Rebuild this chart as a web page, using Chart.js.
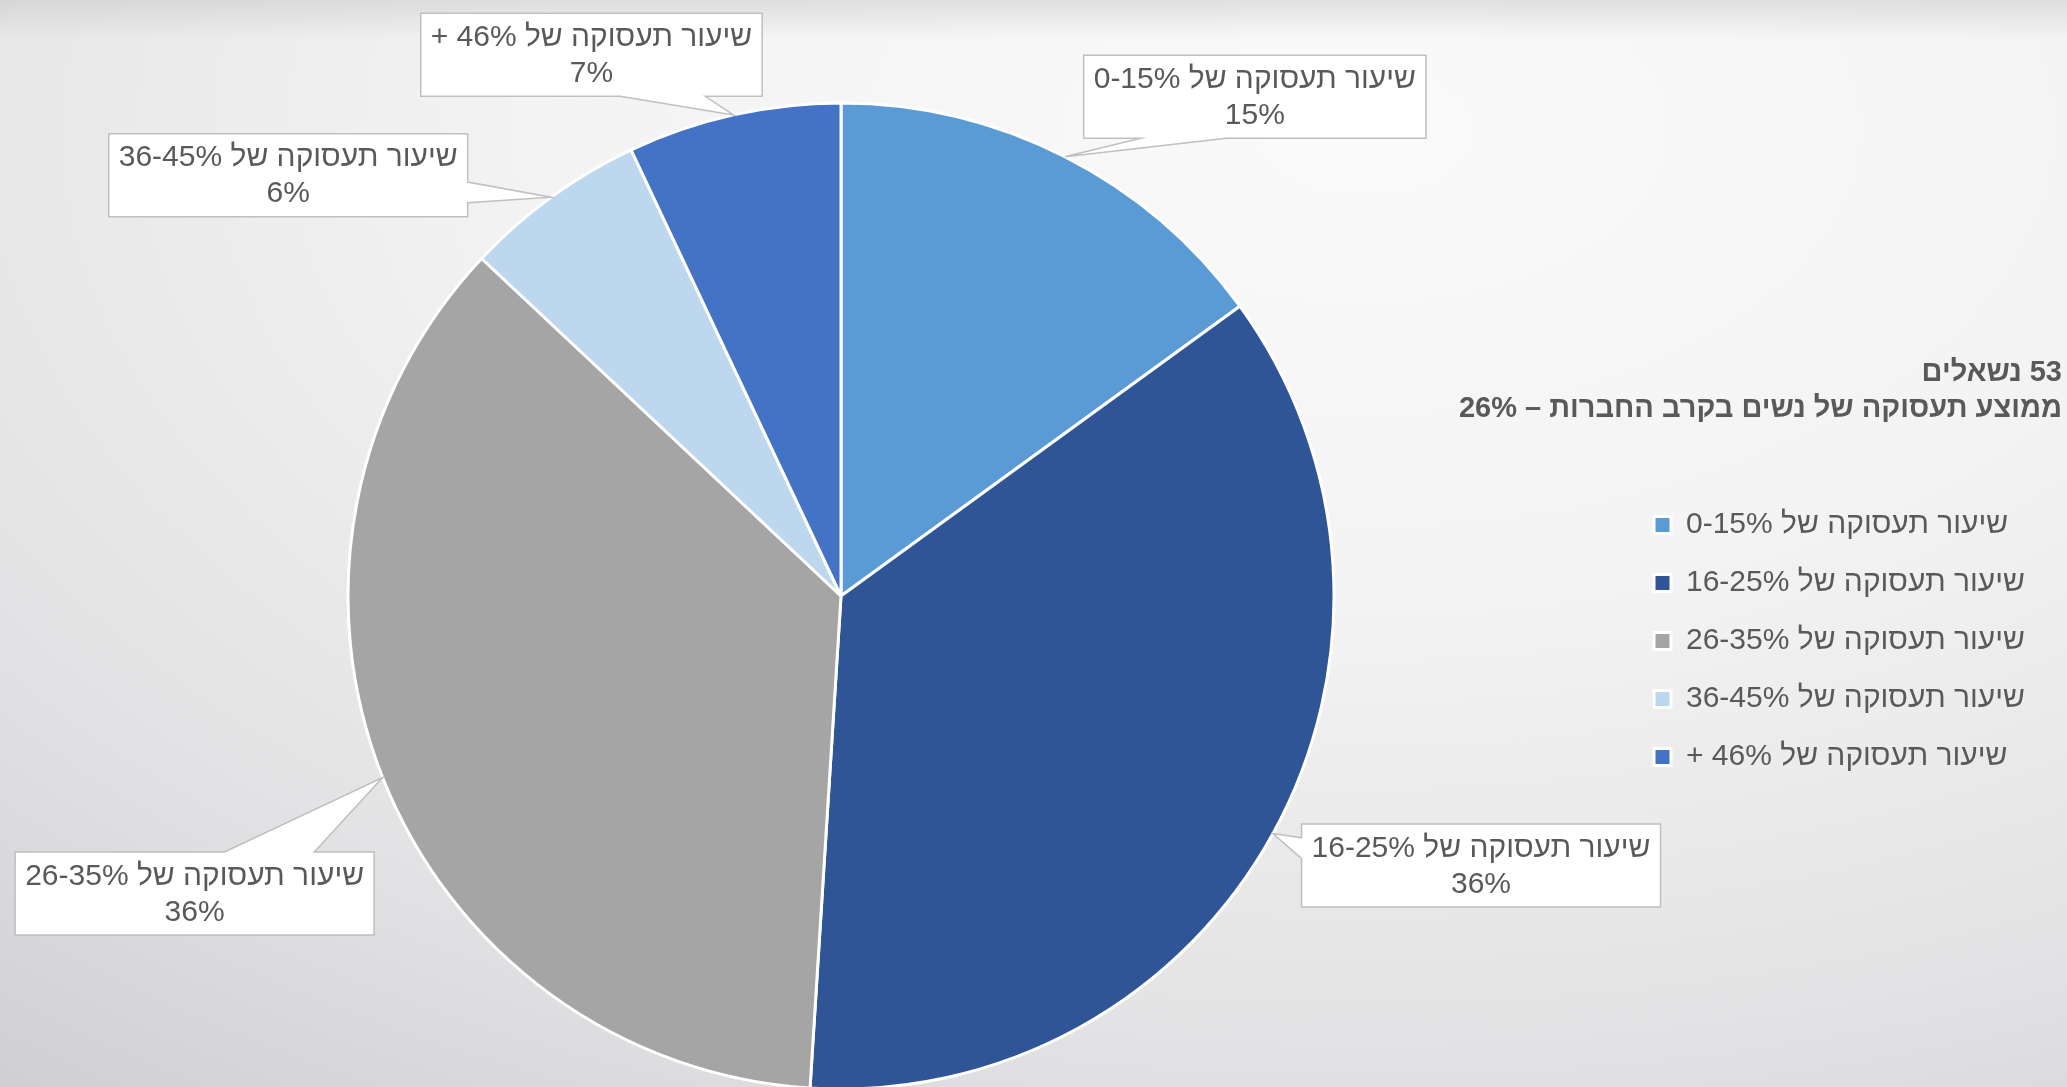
<!DOCTYPE html>
<html lang="he">
<head>
<meta charset="utf-8">
<title>שיעור תעסוקה של נשים</title>
<script src="https://cdn.jsdelivr.net/npm/chart.js@4.4.1/dist/chart.umd.min.js"></script>
<style>
  html, body { margin: 0; padding: 0; }
  body {
    width: 2067px;
    height: 1087px;
    overflow: hidden;
    background:
      linear-gradient(to bottom, rgba(195, 195, 195, 0.45) 0px, rgba(195, 195, 195, 0) 40px),
      radial-gradient(ellipse 115% 125% at 66% 12%, #fafafa 0%, #f3f3f3 35%, #e2e2e4 68%, #c7c8cc 100%);
  }
  canvas { display: block; }
</style>
</head>
<body>
<canvas id="chart" width="2067" height="1087"></canvas>
<script>
const categories = [
  'שיעור תעסוקה של 0-15%',
  'שיעור תעסוקה של 16-25%',
  'שיעור תעסוקה של 26-35%',
  'שיעור תעסוקה של 36-45%',
  'שיעור תעסוקה של 46% +',
]
const shares = [15, 36, 36, 6, 7]
const sliceColors = ['#5b9bd5', '#2f5597', '#a5a5a5', '#bdd7ee', '#4472c4']
const headerLines = ['53 נשאלים', 'ממוצע תעסוקה של נשים בקרב החברות – 26%']

const FONT_FAMILY = "Arial, 'Liberation Sans', 'DejaVu Sans', sans-serif"
const TEXT_COLOR = '#595959'
const LABEL_SIZE = 30
const LEGEND_PAD = 28

// where each callout box sits, relative to the point on the rim it points at
const calloutOffsets = [
  [190, -60],
  [208, 32],
  [-188, 116],
  [-263, -22],
  [-142, -60],
]

// legend width is known only after measuring the labels
function legendWidth() {
  const c = document.createElement('canvas').getContext('2d')
  c.font = `${LABEL_SIZE}px ${FONT_FAMILY}`
  const maxW = Math.max(...categories.map((t) => c.measureText(t).width))
  return LEGEND_PAD + 17 + LABEL_SIZE / 2 + maxW + 10
}

// rectangle with a wedge pointing at (px, py), the way office callouts are drawn
function drawCallout(ctx, l, t, w, h, px, py) {
  const r = l + w
  const b = t + h
  const cx = l + w / 2
  const cy = t + h / 2
  const dx = ((px - cx) * h) / w
  const dy = py - cy
  const horiz = Math.abs(dx) > Math.abs(dy)
  const alongW = px < cx ? [w / 6, (5 * w) / 12] : [(7 * w) / 12, (5 * w) / 6]
  const alongH = py < cy ? [h / 6, (5 * h) / 12] : [(7 * h) / 12, (5 * h) / 6]

  ctx.beginPath()
  ctx.moveTo(l, t)
  if (!horiz && dy < 0) {
    ctx.lineTo(l + alongW[0], t)
    ctx.lineTo(px, py)
    ctx.lineTo(l + alongW[1], t)
  }
  ctx.lineTo(r, t)
  if (horiz && dx > 0) {
    ctx.lineTo(r, t + alongH[0])
    ctx.lineTo(px, py)
    ctx.lineTo(r, t + alongH[1])
  }
  ctx.lineTo(r, b)
  if (!horiz && dy > 0) {
    ctx.lineTo(l + alongW[1], b)
    ctx.lineTo(px, py)
    ctx.lineTo(l + alongW[0], b)
  }
  ctx.lineTo(l, b)
  if (horiz && dx < 0) {
    ctx.lineTo(l, t + alongH[1])
    ctx.lineTo(px, py)
    ctx.lineTo(l, t + alongH[0])
  }
  ctx.closePath()
  ctx.fillStyle = '#ffffff'
  ctx.fill()
  ctx.strokeStyle = '#bfbfbf'
  ctx.lineWidth = 1.5
  ctx.stroke()
}

const calloutPlugin = {
  id: 'callouts',
  afterDatasetsDraw(chart) {
    const ctx = chart.ctx
    const meta = chart.getDatasetMeta(0)
    ctx.save()
    ctx.font = `${LABEL_SIZE}px ${FONT_FAMILY}`
    ctx.direction = 'rtl'
    meta.data.forEach((arc, i) => {
      const { x, y, startAngle, endAngle, outerRadius } = arc.getProps(
        ['x', 'y', 'startAngle', 'endAngle', 'outerRadius'],
        true
      )
      const mid = (startAngle + endAngle) / 2
      const tipX = x + Math.cos(mid) * outerRadius
      const tipY = y + Math.sin(mid) * outerRadius
      const lines = [chart.data.labels[i], chart.data.datasets[0].data[i] + '%']
      const textW = Math.max(...lines.map((s) => ctx.measureText(s).width))
      const w = textW + 20
      const h = 83
      const cx = tipX + calloutOffsets[i][0]
      const cy = tipY + calloutOffsets[i][1]
      drawCallout(ctx, cx - w / 2, cy - h / 2, w, h, tipX, tipY)
      ctx.fillStyle = TEXT_COLOR
      ctx.textAlign = 'center'
      ctx.textBaseline = 'middle'
      ctx.fillText(lines[0], cx, cy - 17)
      ctx.fillText(lines[1], cx, cy + 19)
    })
    ctx.restore()
  },
}

const headerPlugin = {
  id: 'header',
  afterDraw(chart) {
    const ctx = chart.ctx
    ctx.save()
    ctx.font = `bold 29px ${FONT_FAMILY}`
    ctx.fillStyle = TEXT_COLOR
    ctx.textAlign = 'right'
    ctx.textBaseline = 'middle'
    headerLines.forEach((line, i) => {
      ctx.fillText(line, chart.width - 5, 373 + i * 36)
    })
    ctx.restore()
  },
}

const ctx = document.getElementById('chart').getContext('2d')
const chart = new Chart(ctx, {
  type: 'pie',
  data: {
    labels: categories,
    datasets: [
      {
        data: shares,
        backgroundColor: sliceColors,
        borderColor: '#ffffff',
        borderWidth: 3,
        radius: 493,
        clip: false,
      },
    ],
  },
  options: {
    responsive: false,
    animation: false,
    events: [],
    layout: {
      padding: { top: 105, bottom: 0, left: 56, right: 2067 - 1626 - legendWidth() },
    },
    plugins: {
      tooltip: { enabled: false },
      legend: {
        position: 'right',
        align: 'start',
        textDirection: 'rtl',
        // empty title only pushes the entries down below the header
        title: { display: true, text: '', font: { size: 10 }, padding: { top: 365, bottom: 0 } },
        labels: {
          boxWidth: 17,
          boxHeight: 17,
          padding: LEGEND_PAD,
          color: TEXT_COLOR,
          font: { family: FONT_FAMILY, size: LABEL_SIZE },
        },
      },
    },
  },
  plugins: [calloutPlugin, headerPlugin],
})
</script>
</body>
</html>
